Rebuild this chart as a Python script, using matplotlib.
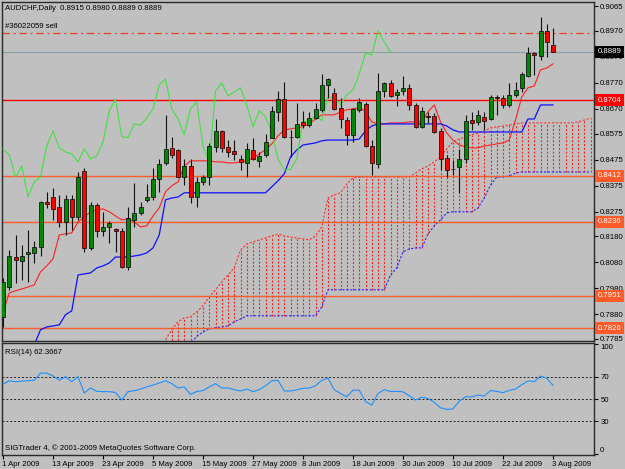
import numpy as np
import matplotlib
matplotlib.use("Agg")
import matplotlib.pyplot as plt
from matplotlib.transforms import blended_transform_factory, ScaledTranslation

plt.rcParams['font.family'] = ['Liberation Sans', 'DejaVu Sans']

# ---- values (bar index 0 = 1 Apr 2009) ----
date_labels = ['1 Apr 2009', '13 Apr 2009', '23 Apr 2009', '5 May 2009', '15 May 2009',
               '27 May 2009', '8 Jun 2009', '18 Jun 2009', '30 Jun 2009', '10 Jul 2009',
               '22 Jul 2009', '3 Aug 2009']
date_bars = [0, 8, 16, 24, 32, 40, 48, 56, 64, 72, 80, 88]

opens = [0.7870, 0.7985, 0.8100, 0.8085, 0.8112, 0.8116, 0.8139, 0.8312, 0.8331, 0.8293,
         0.8235, 0.8324, 0.8254, 0.8431, 0.8135, 0.8300, 0.8200, 0.8216, 0.8208, 0.8200,
         0.8062, 0.8243, 0.8270, 0.8320, 0.8331, 0.8400, 0.8462, 0.8520, 0.8512, 0.8408,
         0.8450, 0.8331, 0.8389, 0.8408, 0.8524, 0.8585, 0.8524, 0.8508, 0.8477, 0.8462,
         0.8512, 0.8470, 0.8493, 0.8558, 0.8658, 0.8708, 0.8562, 0.8562, 0.8620, 0.8608,
         0.8635, 0.8666, 0.8762, 0.8731, 0.8674, 0.8627, 0.8570, 0.8666, 0.8689, 0.8527,
         0.8458, 0.8739, 0.8770, 0.8724, 0.8739, 0.8751, 0.8685, 0.8601, 0.8643, 0.8643,
         0.8585, 0.8481, 0.8439, 0.8447, 0.8477, 0.8627, 0.8620, 0.8639, 0.8631, 0.8716,
         0.8712, 0.8685, 0.8724, 0.8751, 0.8797, 0.8885, 0.8874, 0.8970, 0.8915]
highs = [0.8020, 0.8127, 0.8185, 0.8147, 0.8204, 0.8162, 0.8316, 0.8351, 0.8366, 0.8339,
         0.8339, 0.8339, 0.8427, 0.8443, 0.8312, 0.8308, 0.8274, 0.8239, 0.8212, 0.8212,
         0.8293, 0.8385, 0.8312, 0.8381, 0.8443, 0.8477, 0.8647, 0.8562, 0.8516, 0.8477,
         0.8477, 0.8408, 0.8416, 0.8539, 0.8631, 0.8589, 0.8550, 0.8550, 0.8493, 0.8539,
         0.8558, 0.8504, 0.8574, 0.8681, 0.8739, 0.8774, 0.8589, 0.8693, 0.8662, 0.8658,
         0.8693, 0.8804, 0.8789, 0.8751, 0.8712, 0.8639, 0.8674, 0.8712, 0.8697, 0.8550,
         0.8808, 0.8774, 0.8781, 0.8747, 0.8797, 0.8766, 0.8693, 0.8677, 0.8658, 0.8654,
         0.8597, 0.8493, 0.8474, 0.8516, 0.8647, 0.8658, 0.8666, 0.8658, 0.8724, 0.8724,
         0.8724, 0.8770, 0.8774, 0.8812, 0.8908, 0.8889, 0.9024, 0.8997, 0.8980]
lows = [0.7831, 0.7974, 0.8000, 0.8012, 0.8004, 0.8077, 0.8104, 0.8289, 0.8243, 0.8216,
        0.8185, 0.8204, 0.8243, 0.8120, 0.8127, 0.8177, 0.8181, 0.8154, 0.8120, 0.8058,
        0.8050, 0.8216, 0.8262, 0.8312, 0.8320, 0.8351, 0.8454, 0.8481, 0.8408, 0.8377,
        0.8308, 0.8293, 0.8377, 0.8377, 0.8504, 0.8504, 0.8485, 0.8474, 0.8435, 0.8408,
        0.8474, 0.8447, 0.8485, 0.8558, 0.8624, 0.8558, 0.8485, 0.8558, 0.8597, 0.8601,
        0.8631, 0.8658, 0.8712, 0.8666, 0.8597, 0.8531, 0.8543, 0.8658, 0.8524, 0.8416,
        0.8443, 0.8716, 0.8716, 0.8681, 0.8724, 0.8666, 0.8597, 0.8597, 0.8616, 0.8577,
        0.8435, 0.8408, 0.8416, 0.8347, 0.8462, 0.8589, 0.8608, 0.8589, 0.8627, 0.8647,
        0.8674, 0.8677, 0.8716, 0.8735, 0.8793, 0.8801, 0.8858, 0.8870, 0.8889]
closes = [0.8004, 0.8104, 0.8089, 0.8104, 0.8120, 0.8139, 0.8312, 0.8304, 0.8285, 0.8235,
          0.8324, 0.8254, 0.8408, 0.8135, 0.8300, 0.8200, 0.8216, 0.8231, 0.8200, 0.8062,
          0.8250, 0.8270, 0.8293, 0.8331, 0.8400, 0.8458, 0.8516, 0.8493, 0.8408, 0.8450,
          0.8331, 0.8389, 0.8408, 0.8527, 0.8585, 0.8520, 0.8504, 0.8497, 0.8466, 0.8516,
          0.8477, 0.8489, 0.8543, 0.8662, 0.8708, 0.8562, 0.8560, 0.8612, 0.8608, 0.8635,
          0.8670, 0.8762, 0.8785, 0.8670, 0.8631, 0.8570, 0.8670, 0.8697, 0.8527, 0.8462,
          0.8739, 0.8770, 0.8720, 0.8735, 0.8751, 0.8685, 0.8601, 0.8662, 0.8639, 0.8581,
          0.8477, 0.8435, 0.8437, 0.8477, 0.8624, 0.8616, 0.8647, 0.8624, 0.8716, 0.8712,
          0.8685, 0.8724, 0.8743, 0.8804, 0.8885, 0.8877, 0.8970, 0.8927, 0.8889]

# Ichimoku lines
tenkan = [0.7885, 0.7962, 0.7970, 0.7977, 0.7985, 0.7993, 0.8043, 0.8066, 0.8093, 0.8185,
          0.8189, 0.8193, 0.8235, 0.8254, 0.8274, 0.8281, 0.8285, 0.8274, 0.8258, 0.8243,
          0.8247, 0.8235, 0.8216, 0.8220, 0.8258, 0.8289, 0.8351, 0.8374, 0.8389, 0.8450,
          0.8470, 0.8470, 0.8470, 0.8470, 0.8466, 0.8466, 0.8462, 0.8462, 0.8466, 0.8470,
          0.8481, 0.8497, 0.8512, 0.8535, 0.8566, 0.8589, 0.8593, 0.8597, 0.8601, 0.8612,
          0.8631, 0.8647, 0.8647, 0.8647, 0.8658, 0.8666, 0.8670, 0.8674, 0.8662, 0.8620,
          0.8612, 0.8612, 0.8616, 0.8616, 0.8616, 0.8620, 0.8620, 0.8620, 0.8658, 0.8685,
          0.8620, 0.8577, 0.8550, 0.8531, 0.8524, 0.8520, 0.8520, 0.8527, 0.8531, 0.8535,
          0.8539, 0.8550, 0.8627, 0.8716, 0.8751, 0.8758, 0.8820, 0.8827, 0.8843]
kijun_start = 5
kijun = [0.7762, 0.7820, 0.7831, 0.7835, 0.7839, 0.7878, 0.7893, 0.8031, 0.8035, 0.8039,
         0.8058, 0.8066, 0.8077, 0.8100, 0.8100, 0.8100, 0.8104, 0.8108, 0.8116, 0.8135,
         0.8185, 0.8320, 0.8327, 0.8331, 0.8347, 0.8347, 0.8347, 0.8347, 0.8347, 0.8347,
         0.8347, 0.8347, 0.8347, 0.8347, 0.8347, 0.8347, 0.8347, 0.8347, 0.8370, 0.8393,
         0.8420, 0.8485, 0.8512, 0.8531, 0.8535, 0.8539, 0.8547, 0.8550, 0.8550, 0.8550,
         0.8550, 0.8550, 0.8554, 0.8585, 0.8604, 0.8612, 0.8612, 0.8612, 0.8612, 0.8612,
         0.8612, 0.8612, 0.8612, 0.8612, 0.8612, 0.8612, 0.8604, 0.8589, 0.8581, 0.8581,
         0.8581, 0.8581, 0.8581, 0.8581, 0.8581, 0.8581, 0.8581, 0.8581, 0.8581, 0.8631,
         0.8631, 0.8685, 0.8685, 0.8685]
cloud_start = 26
senkou_a = [0.7782, 0.7820, 0.7851, 0.7866, 0.7870, 0.7889, 0.7912, 0.7947, 0.7974, 0.8004,
            0.8031, 0.8058, 0.8127, 0.8150, 0.8158, 0.8166, 0.8173, 0.8181, 0.8189, 0.8181,
            0.8177, 0.8173, 0.8170, 0.8166, 0.8181, 0.8216, 0.8327, 0.8339, 0.8347, 0.8381,
            0.8404, 0.8408, 0.8408, 0.8408, 0.8408, 0.8408, 0.8408, 0.8408, 0.8408, 0.8408,
            0.8423, 0.8439, 0.8450, 0.8466, 0.8485, 0.8516, 0.8543, 0.8554, 0.8562, 0.8570,
            0.8577, 0.8585, 0.8597, 0.8601, 0.8604, 0.8608, 0.8612, 0.8616, 0.8616, 0.8616,
            0.8616, 0.8616, 0.8616, 0.8616, 0.8616, 0.8616, 0.8620, 0.8627, 0.8635]
senkou_b = [0.7765, 0.7765, 0.7765, 0.7765, 0.7765, 0.7795, 0.7812, 0.7824, 0.7828, 0.7831,
            0.7835, 0.7851, 0.7862, 0.7874, 0.7874, 0.7874, 0.7874, 0.7874, 0.7874, 0.7874,
            0.7874, 0.7874, 0.7874, 0.7874, 0.7874, 0.7908, 0.7974, 0.7974, 0.7974, 0.7974,
            0.7974, 0.7974, 0.7974, 0.7974, 0.7974, 0.7974, 0.8031, 0.8058, 0.8120, 0.8131,
            0.8135, 0.8135, 0.8189, 0.8220, 0.8243, 0.8270, 0.8274, 0.8274, 0.8274, 0.8274,
            0.8289, 0.8327, 0.8377, 0.8408, 0.8408, 0.8412, 0.8423, 0.8427, 0.8427, 0.8427,
            0.8427, 0.8427, 0.8427, 0.8427, 0.8427, 0.8427, 0.8427, 0.8427, 0.8427]
chikou_shift = 26

rsi = [63.6, 66.5, 65.7, 66.2, 66.6, 67.0, 73.5, 73.5, 71.0, 67.0,
       70.3, 65.7, 70.3, 55.5, 60.0, 57.0, 56.7, 56.7, 56.0, 49.0,
       56.7, 57.5, 59.0, 61.0, 62.6, 64.5, 66.6, 64.0, 60.0, 61.0,
       54.2, 56.8, 57.6, 61.0, 64.0, 60.0, 60.0, 58.5, 57.3, 59.0,
       56.7, 58.5, 62.0, 66.5, 67.0, 57.3, 57.3, 58.3, 59.7, 60.0,
       62.0, 67.0, 68.8, 58.5, 55.0, 52.0, 58.0, 58.0, 47.6, 44.5,
       55.0, 58.5, 56.8, 57.0, 56.5, 53.0, 49.0, 51.6, 50.5, 47.0,
       42.0, 40.5, 41.0, 48.0, 52.0, 52.0, 53.6, 52.7, 57.6, 56.9,
       55.8, 57.8, 59.0, 63.0, 66.5, 65.7, 70.9, 68.8, 62.4]
rsi_levels = [70, 50, 30]

price_ticks = [0.9065, 0.8970, 0.8870, 0.8770, 0.8670, 0.8575, 0.8475,
               0.8375, 0.8275, 0.8180, 0.8080, 0.7980, 0.7880, 0.7785]
level_prices = [0.8704, 0.8412, 0.8236, 0.7951, 0.7826]
level_colors = ['#FF0000', '#FF5A2A', '#FF5A2A', '#FF5A2A', '#FF5A2A']
bid_price = 0.8889
order_price = 0.8962

# ---- figure ----
W, H = 625, 469
BG = '#C0C0C0'
FS = 5.6

fig = plt.figure(figsize=(W / 100, H / 100), dpi=100, facecolor=BG)
ax = fig.add_axes([2 / W, 1 - 341 / H, 592 / W, 339 / H], facecolor=BG)
ax2 = fig.add_axes([2 / W, 1 - 455 / H, 592 / W, 112 / H], facecolor=BG, sharex=ax)

x = np.arange(len(closes))
o = np.array(opens)
c = np.array(closes)
hi = np.array(highs)
lo = np.array(lows)

# faint grid
for t in price_ticks:
    ax.axhline(t, color='#B7B7B7', lw=0.4, ls=(0, (1, 3)), zorder=0)
for b in date_bars:
    ax.axvline(b, color='#B7B7B7', lw=0.4, ls=(0, (1, 3)), zorder=0)
    ax2.axvline(b, color='#B7B7B7', lw=0.4, ls=(0, (1, 3)), zorder=0)

# cloud
xc = np.arange(cloud_start, cloud_start + len(senkou_a))
ax.vlines(xc, senkou_b, senkou_a, colors='#FF1E1E', linestyles=(0, (1.8, 1.6)), lw=0.8, zorder=1)
ax.plot(xc, senkou_a, color='#FF3030', ls=(0, (2, 1.5)), lw=0.8, zorder=1)
ax.plot(xc, senkou_b, color='#2828FF', ls=(0, (2, 1.5)), lw=0.8, zorder=1)

# horizontal levels
for lv, col in zip(level_prices, level_colors):
    ax.axhline(lv, color=col, lw=1.0, zorder=2)
ax.axhline(bid_price, color='#8C9CA8', lw=0.8, zorder=2)
ax.axhline(order_price, color='#E8401E', lw=0.9, ls=(0, (6, 3, 1.5, 3)), zorder=2)

# ichimoku lines
ax.plot(x, tenkan, color='#FF2020', lw=0.8, zorder=3)
ax.plot(np.arange(kijun_start, kijun_start + len(kijun)), kijun, color='#1010FF', lw=0.9, zorder=3)
chikou = c[chikou_shift:]
ax.plot(np.arange(len(chikou)), chikou, color='#44E044', lw=0.8, zorder=3)

# candles
up = c >= o
body_lo = np.minimum(o, c)
body_h = np.maximum(np.abs(c - o), 0.00006)
ax.vlines(x, lo, hi, color='#101010', lw=0.8, zorder=4)
ax.bar(x[up], body_h[up], bottom=body_lo[up], width=0.64, color='#008800',
       edgecolor='black', lw=0.5, zorder=5)
ax.bar(x[~up], body_h[~up], bottom=body_lo[~up], width=0.64, color='#FF0000',
       edgecolor='black', lw=0.5, zorder=5)

ax.set_xlim(-0.16, 94.56)
ax.set_ylim(0.7777, 0.9081)

# right price scale
ax.yaxis.tick_right()
ax.set_yticks(price_ticks)
ax.set_yticklabels([f'{t:.4f}' for t in price_ticks])
ax.tick_params(axis='y', direction='out', length=3, width=0.8, pad=1.5,
               labelsize=FS, colors='black')
ax.tick_params(axis='x', bottom=False, labelbottom=False)

trans = blended_transform_factory(ax.transAxes, ax.transData)
def price_box(val, fc):
    ax.text(1.006, val, f'{val:.4f}', transform=trans, ha='left', va='center',
            fontsize=FS, color='white', zorder=10, clip_on=False,
            bbox=dict(boxstyle='square,pad=0.3', fc=fc, ec='none'))

for lv, col in zip(level_prices, level_colors):
    price_box(lv, col)
price_box(bid_price, 'black')

# RSI panel
ax2.plot(x, rsi, color='#1E90FF', lw=0.8, zorder=3)
for lv in rsi_levels:
    ax2.axhline(lv, color='#202020', lw=0.7, ls=(0, (2, 2)), zorder=2)
ax2.set_ylim(-0.9, 100.9)
ax2.yaxis.tick_right()
ax2.set_yticks([0, 30, 50, 70, 100])
ax2.set_yticklabels(['0', '30', '50', '70', '100'])
ax2.tick_params(axis='y', direction='out', length=3, width=0.8, pad=1.5,
                labelsize=FS, colors='black')
ylabs = ax2.get_yticklabels()
ylabs[0].set_va('bottom')
ylabs[-1].set_va('top')

ax2.set_xticks(date_bars)
ax2.set_xticklabels(date_labels, ha='left')
ax2.tick_params(axis='x', direction='out', length=3, width=0.8, pad=1.5,
                labelsize=FS, colors='black')
shift = ScaledTranslation(-1.5 / 100, 0, fig.dpi_scale_trans)
for lbl in ax2.get_xticklabels():
    lbl.set_transform(lbl.get_transform() + shift)

for a in (ax, ax2):
    for s in a.spines.values():
        s.set_color('#2A2A2A')
        s.set_linewidth(1.0)

# texts
def ftext(px, py, s):
    fig.text(px / W, 1 - py / H, s, fontsize=FS, color='black', ha='left', va='center')

ftext(5, 8, 'AUDCHF,Daily  0.8915 0.8980 0.8889 0.8889')
ftext(5, 27, '#36022059 sell')
ftext(5, 352, 'RSI(14) 62.3667')
ftext(5, 448, 'SIGTrader 4, \u00a9 2001-2009 MetaQuotes Software Corp.')

fig.savefig('out.png', dpi=100, facecolor=BG)
